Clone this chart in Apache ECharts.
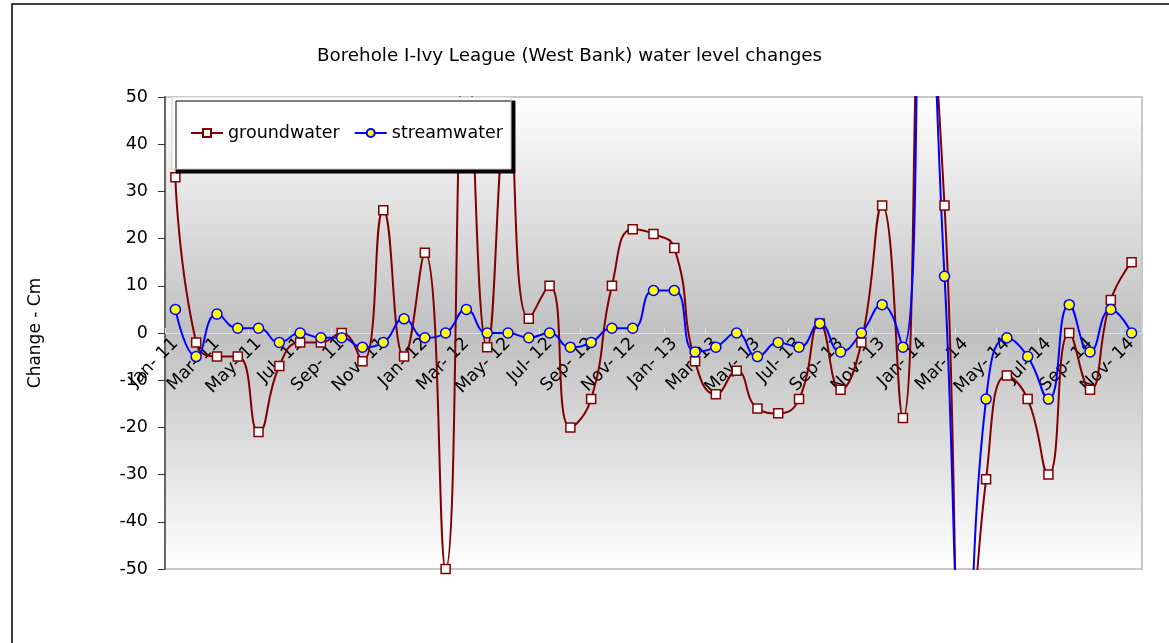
<!DOCTYPE html>
<html>
<head>
<meta charset="utf-8">
<script src="https://cdn.jsdelivr.net/npm/echarts@6/dist/echarts.min.js"></script>
<style>
  html, body { margin: 0; padding: 0; background: #fff; }
  #chart { width: 1169px; height: 643px; }
</style>
</head>
<body>
<div id="chart"></div>
<script>
var months = [
  'Jan- 11', 'Feb- 11', 'Mar- 11', 'Apr- 11', 'May- 11', 'Jun- 11', 'Jul- 11', 'Aug- 11', 'Sep- 11', 'Oct- 11', 'Nov- 11', 'Dec- 11',
  'Jan- 12', 'Feb- 12', 'Mar- 12', 'Apr- 12', 'May- 12', 'Jun- 12', 'Jul- 12', 'Aug- 12', 'Sep- 12', 'Oct- 12', 'Nov- 12', 'Dec- 12',
  'Jan- 13', 'Feb- 13', 'Mar- 13', 'Apr- 13', 'May- 13', 'Jun- 13', 'Jul- 13', 'Aug- 13', 'Sep- 13', 'Oct- 13', 'Nov- 13', 'Dec- 13',
  'Jan- 14', 'Feb- 14', 'Mar- 14', 'Apr- 14', 'May- 14', 'Jun- 14', 'Jul- 14', 'Aug- 14', 'Sep- 14', 'Oct- 14', 'Nov- 14'
]
var groundwater = [
  33, -2, -5, -5, -21, -7, -2, -2, 0, -6, 26, -5,
  17, -50, 65, -3, 48, 3, 10, -20, -14, 10, 22, 21,
  18, -6, -13, -8, -16, -17, -14, 2, -12, -2, 27, -18,
  80, 27, -80, -31, -9, -14, -30, 0, -12, 7, 15
]
var streamwater = [
  5, -5, 4, 1, 1, -2, 0, -1, -1, -3, -2, 3,
  -1, 0, 5, 0, 0, -1, 0, -3, -2, 1, 1, 9,
  9, -4, -3, 0, -5, -2, -3, 2, -4, 0, 6, -3,
  90, 12, -75, -14, -1, -5, -14, 6, -4, 5, 0
]
var yTicks = { min: -50, max: 50, step: 10 }

var font = 'DejaVu Sans, Verdana, sans-serif'
var myChart = echarts.init(document.getElementById('chart'))

// grid is 472px tall, zero sits in the middle -> pull the x axis up onto it
var gridTop = 97, gridHeight = 472
var zeroOffset = -gridHeight * (0 - yTicks.min) / (yTicks.max - yTicks.min)

var option = {
  animation: false,
  title: {
    text: 'Borehole I-Ivy League (West Bank) water level changes',
    left: 312,
    top: 42,
    textStyle: { fontFamily: font, fontSize: 18.3, fontWeight: 'normal', color: '#000' }
  },
  legend: {
    left: 172,
    top: 97,
    itemWidth: 32,
    itemHeight: 10,
    itemGap: 14,
    padding: [27, 8, 27, 18],
    backgroundColor: '#fff',
    borderColor: '#d0d0d0',
    borderWidth: 1,
    shadowColor: '#000',
    shadowBlur: 0,
    shadowOffsetX: 4,
    shadowOffsetY: 4,
    textStyle: { fontFamily: font, fontSize: 17.5, color: '#000' },
    data: ['groundwater', 'streamwater']
  },
  grid: {
    left: 165,
    top: gridTop,
    width: 977,
    height: gridHeight,
    show: true,
    borderColor: '#c8c8c8',
    borderWidth: 2,
    backgroundColor: {
      type: 'linear', x: 0, y: 0, x2: 0, y2: 1,
      colorStops: [
        { offset: 0, color: '#ffffff' },
        { offset: 0.5, color: '#c0c0c0' },
        { offset: 1, color: '#ffffff' }
      ]
    }
  },
  xAxis: {
    type: 'category',
    data: months,
    boundaryGap: true,
    offset: zeroOffset,
    axisLine: { onZero: false, lineStyle: { color: '#bfeeee', width: 1 } },
    axisTick: { show: true, inside: true, interval: 1, length: 5, lineStyle: { color: '#bfeeee' } },
    axisLabel: {
      interval: 1,
      rotate: 45,
      margin: 8,
      fontFamily: font,
      fontSize: 17.5,
      color: '#000'
    },
    splitLine: { show: false }
  },
  yAxis: {
    type: 'value',
    min: yTicks.min,
    max: yTicks.max,
    interval: yTicks.step,
    name: 'Change - Cm',
    nameLocation: 'middle',
    nameRotate: 90,
    nameGap: 121,
    nameTextStyle: { fontFamily: font, fontSize: 17, color: '#000' },
    axisLine: { show: true, lineStyle: { color: '#666', width: 2 } },
    axisTick: { show: true, length: 7, lineStyle: { color: '#333' } },
    axisLabel: { fontFamily: font, fontSize: 17.5, color: '#000', margin: 17 },
    splitLine: { show: false }
  },
  series: [
    {
      name: 'groundwater',
      type: 'line',
      data: groundwater,
      smooth: 0.5,
      clip: true,
      symbol: 'rect',
      symbolSize: 9,
      showAllSymbol: true,
      lineStyle: { color: '#800000', width: 2 },
      itemStyle: { color: '#fff', borderColor: '#800000', borderWidth: 1.5 }
    },
    {
      name: 'streamwater',
      type: 'line',
      data: streamwater,
      smooth: 0.5,
      clip: true,
      symbol: 'circle',
      symbolSize: 10,
      showAllSymbol: true,
      lineStyle: { color: '#0000ff', width: 2 },
      itemStyle: { color: '#ffff00', borderColor: '#0000ff', borderWidth: 1.5 }
    }
  ],
  graphic: [
    {
      type: 'rect',
      z: 100,
      silent: true,
      shape: { x: 12, y: 4, width: 1200, height: 700 },
      style: { fill: 'none', stroke: '#000', lineWidth: 1.5 }
    }
  ]
}

myChart.setOption(option)
</script>
</body>
</html>
